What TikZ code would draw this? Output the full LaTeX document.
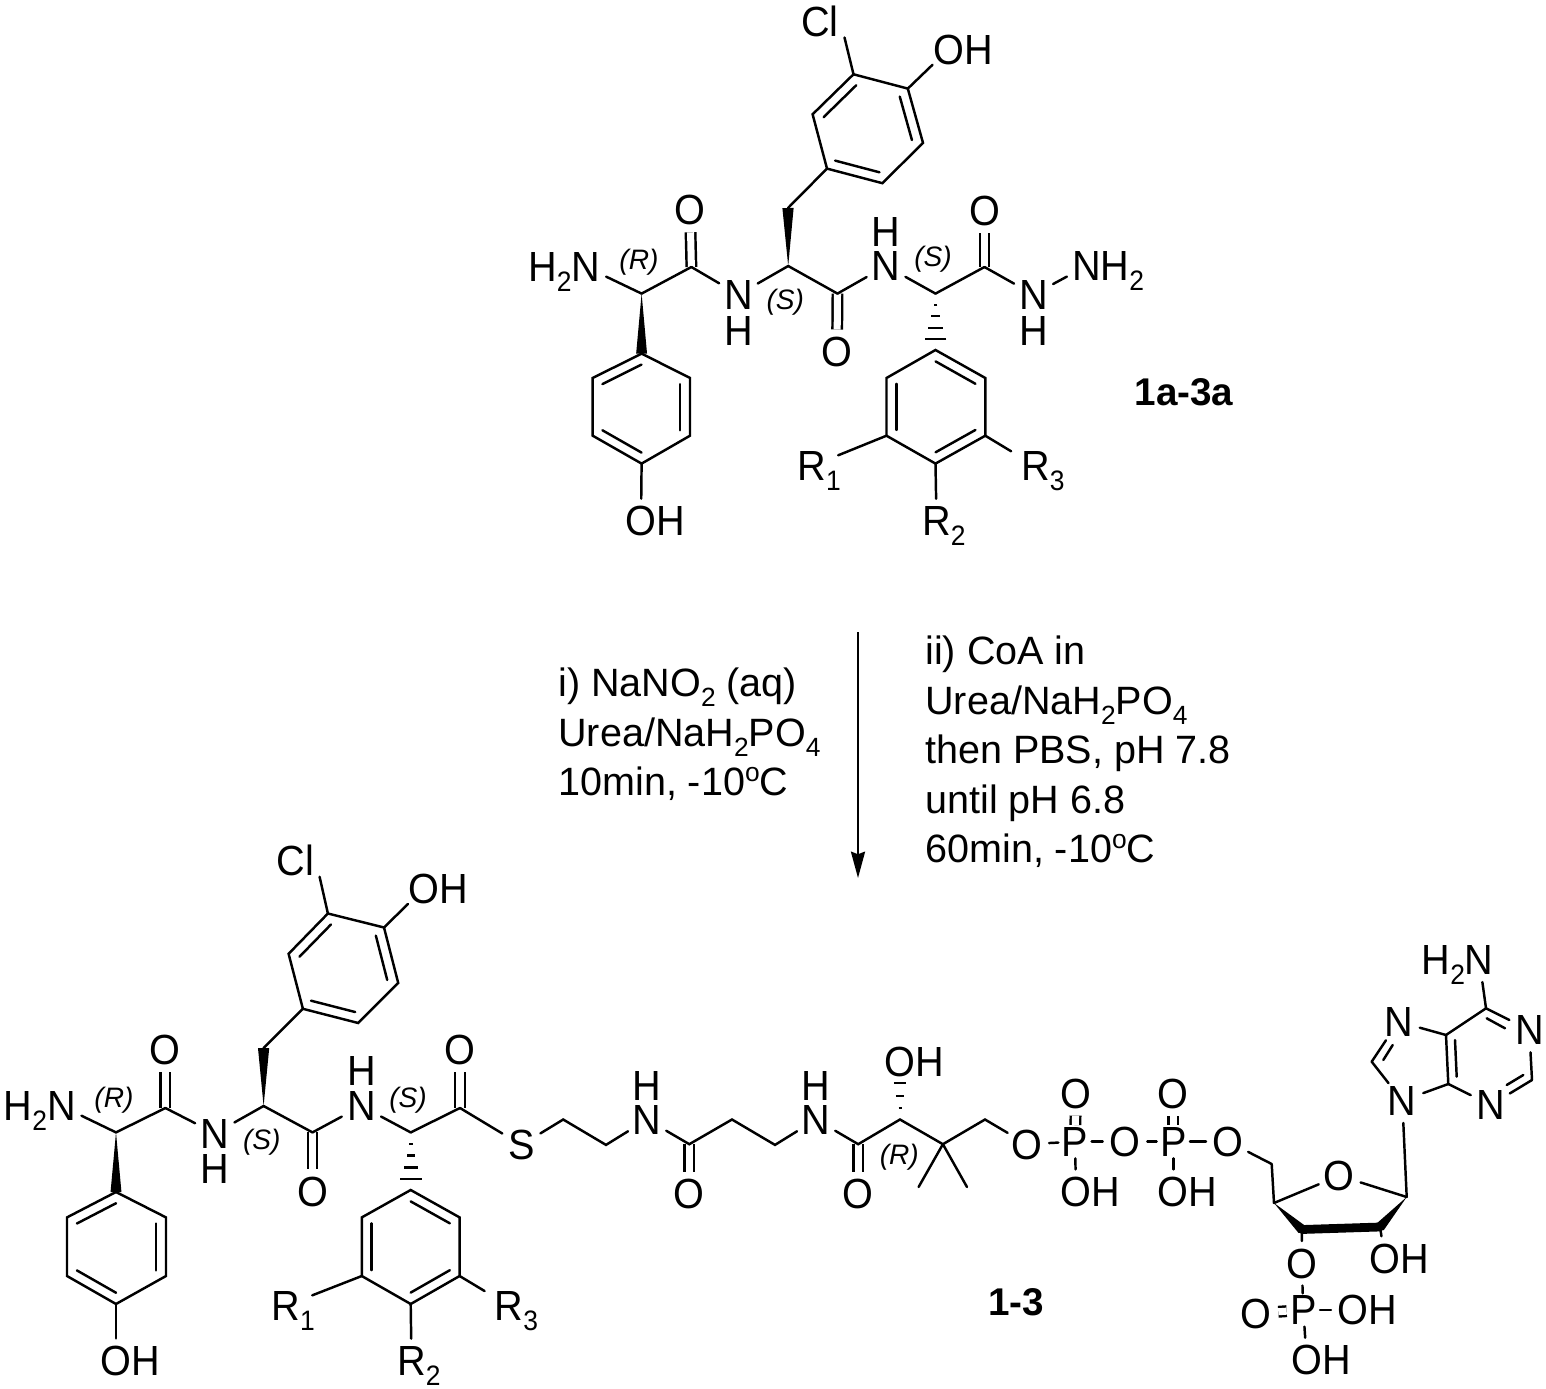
\documentclass[tikz,border=0pt]{standalone}
\usepackage{fontspec}
\setmainfont{Liberation Sans}
\newfontfamily\atomfam[FakeStretch=0.94]{Liberation Sans}
\usepackage{tikz}
\usetikzlibrary{calc,arrows.meta}
\newcommand{\subs}[1]{\raisebox{-5.5pt}{\fontsize{16}{16}\selectfont #1}}
\newcommand{\rsub}[1]{\raisebox{-5.6pt}{\fontsize{15}{15}\selectfont #1}}
\newcommand{\sups}[1]{\raisebox{8pt}{\fontsize{15}{15}\selectfont #1}}
\newcommand{\innerbond}[3]{\draw[bond] ($(#1)!.2!(#3)$) -- ($(#2)!.2!(#3)$);}
\newcommand{\wedgebond}[3]{\fill (#1) -- ($(#2)!#3!90:(#1)$) -- ($(#2)!#3!-90:(#1)$) -- cycle;}
\newcommand{\hashbar}[4]{\draw[hashbond] ($($(#1)!#3!(#2)$)!#4!90:(#2)$) -- ($($(#1)!#3!(#2)$)!#4!-90:(#2)$);}
\newcommand{\hashbond}[2]{\hashbar{#1}{#2}{.2}{1.1pt}\hashbar{#1}{#2}{.4}{2.3pt}\hashbar{#1}{#2}{.61}{4pt}\hashbar{#1}{#2}{.81}{6.2pt}}

\begin{document}
\begin{tikzpicture}[
    x=0.02cm, y=-0.02cm,
    bond/.style={line width=1.4pt, line cap=round},
    dblbond/.style={line width=1.4pt, double, double distance=4pt},
    hashbond/.style={line width=1.2pt},
    atom/.style={circle, inner sep=0pt, minimum size=25pt, text height=17pt, text depth=0pt, font=\atomfam\fontsize{24}{28}\selectfont},
    atomp/.style={atom, outer sep=-3pt},
    rgroup/.style={atom, minimum size=32pt},
    stereo/.style={inner sep=0pt, font=\fontsize{16}{18}\selectfont\itshape},
    tag/.style={inner sep=0pt, font=\fontsize{22}{26}\selectfont\bfseries},
    reagent/.style={inner sep=0pt, anchor=west, align=left, font=\fontsize{22.5}{28.2}\selectfont},
    arrow/.style={line width=1.2pt, -{Stealth[length=15pt, width=8pt, inset=1.5pt]}}
]
\useasboundingbox (0,0) rectangle (1546,1389);

% Top molecule: backbone
\coordinate (tca1) at (641.6,293.6);
\coordinate (tco1) at (691.4,267);
\coordinate (tca2) at (788.2,266);
\coordinate (tch2) at (788,208);
\coordinate (tco2) at (837.5,293.6);
\coordinate (tca3) at (935.5,293.6);
\coordinate (tco3) at (984.5,267);
\node[atom] (tnh2) at (586,267) {\llap{H\subs{2}}N};
\node[atom] (to1) at (690,210) {O};
\node[atom] (tn1) at (738.4,294.6) {N};
\node[atom] (th1) at (738.4,330.4) {H};
\node[atom] (to2) at (837,351.8) {O};
\node[atom] (tn2) at (886,266) {N};
\node[atom] (th2) at (886,232) {H};
\node[atom] (to3) at (984.5,210.7) {O};
\node[atom] (tn3) at (1033.5,294.6) {N};
\node[atom] (th3) at (1033.5,330.4) {H};
\node[atom] (tn4) at (1086.5,266) {N\rlap{H\subs{2}}};
\node[stereo] (tst1) at (639,262.5) {(R)};
\node[stereo] (tst2) at (785.3,302.5) {(S)};
\node[stereo] (tst3) at (933,259.6) {(S)};

% Top molecule: left ring
\coordinate (tr1a) at (641.6,353.6);
\coordinate (tr1b) at (592.7,378);
\coordinate (tr1c) at (592.7,435.7);
\coordinate (tr1d) at (641.6,463.6);
\coordinate (tr1e) at (690,435.7);
\coordinate (tr1f) at (690,378);
\coordinate (tr1m) at (641.3,408.6);
\node[atom] (to4) at (641,521) {O\rlap{H}};

% Top molecule: chloro ring
\coordinate (tr2a) at (827,168.6);
\coordinate (tr2b) at (812.6,114.3);
\coordinate (tr2c) at (853.5,74.3);
\coordinate (tr2d) at (907.8,88.6);
\coordinate (tr2e) at (923,142.9);
\coordinate (tr2f) at (882.4,183.2);
\coordinate (tr2m) at (867.7,128.7);
\coordinate (tclend) at (844.5,37.5);
\node[inner sep=0pt, font=\atomfam\fontsize{24}{28}\selectfont] (tcl) at (820,21.4) {Cl};
\node[atom] (to5) at (948.6,49.3) {O\rlap{H}};

% Top molecule: R ring
\coordinate (tr3a) at (935.5,350);
\coordinate (tr3b) at (985.3,378);
\coordinate (tr3c) at (985.3,435.7);
\coordinate (tr3d) at (935.5,463.6);
\coordinate (tr3e) at (886.5,435.7);
\coordinate (tr3f) at (886.5,378);
\coordinate (tr3m) at (935.9,407);
\node[rgroup] (tr1) at (811.8,466) {R\rlap{\subs{1}}};
\node[atom] (tr2) at (936.5,521) {R\rlap{\subs{2}}};
\node[rgroup] (tr3) at (1035.5,466) {R\rlap{\subs{3}}};
\node[tag] (tlabel) at (1184,392) {1a-3a};

% Top molecule: bonds
\draw[dblbond] (tco1) -- (to1);
\draw[dblbond] (tco2) -- (to2);
\draw[dblbond] (tco3) -- (to3);
\draw[bond] (tnh2) -- (tca1);
\draw[bond] (tca1) -- (tco1);
\draw[bond] (tco1) -- (tn1);
\draw[bond] (tn1) -- (tca2);
\draw[bond] (tca2) -- (tco2);
\draw[bond] (tco2) -- (tn2);
\draw[bond] (tn2) -- (tca3);
\draw[bond] (tca3) -- (tco3);
\draw[bond] (tco3) -- (tn3);
\draw[bond] (tn3) -- (tn4);
\wedgebond{tca1}{tr1a}{3.1pt}
\wedgebond{tca2}{tch2}{3.2pt}
\hashbond{tca3}{tr3a}
\draw[bond] (tch2) -- (tr2a);
\draw[bond] (tr1a) -- (tr1b) -- (tr1c) -- (tr1d) -- (tr1e) -- (tr1f) -- cycle;
\innerbond{tr1a}{tr1b}{tr1m}
\innerbond{tr1c}{tr1d}{tr1m}
\innerbond{tr1e}{tr1f}{tr1m}
\draw[bond] (tr1d) -- (to4);
\draw[bond] (tr2a) -- (tr2b) -- (tr2c) -- (tr2d) -- (tr2e) -- (tr2f) -- cycle;
\innerbond{tr2b}{tr2c}{tr2m}
\innerbond{tr2d}{tr2e}{tr2m}
\innerbond{tr2f}{tr2a}{tr2m}
\draw[bond] (tr2c) -- (tclend);
\draw[bond] (tr2d) -- (to5);
\draw[bond] (tr3a) -- (tr3b) -- (tr3c) -- (tr3d) -- (tr3e) -- (tr3f) -- cycle;
\innerbond{tr3a}{tr3b}{tr3m}
\innerbond{tr3c}{tr3d}{tr3m}
\innerbond{tr3e}{tr3f}{tr3m}
\draw[bond] (tr3e) -- (tr1);
\draw[bond] (tr3d) -- (tr2);
\draw[bond] (tr3c) -- (tr3);

% Reaction arrow and conditions
\coordinate (arrowtop) at (858,632);
\coordinate (arrowtip) at (858,878);
\draw[arrow] (arrowtop) -- (arrowtip);
\node[reagent] (condleft) at (558,734.5) {i) NaNO\rsub{2} (aq)\\Urea/NaH\rsub{2}PO\rsub{4}\\10min, -10\sups{o}C};
\node[reagent] (condright) at (925,752) {ii) CoA in\\Urea/NaH\rsub{2}PO\rsub{4}\\then PBS, pH 7.8\\until pH 6.8\\60min, -10\sups{o}C};

% Bottom molecule: backbone
\coordinate (bca1) at (116,1132.4);
\coordinate (bco1) at (165.4,1108);
\coordinate (bca2) at (263.6,1106);
\coordinate (bch2) at (263.6,1048);
\coordinate (bco2) at (312.5,1132.4);
\coordinate (bca3) at (410.7,1132.4);
\coordinate (bco3) at (460,1108);
\node[atom] (bnh2) at (61.4,1106) {\llap{H\subs{2}}N};
\node[atom] (bo1) at (165.4,1049.4) {O};
\node[atom] (bn1) at (215,1133.4) {N};
\node[atom] (bh1) at (215,1169) {H};
\node[atom] (bo2) at (312.5,1191.2) {O};
\node[atom] (bn2) at (361.4,1106) {N};
\node[atom] (bh2) at (361.4,1071) {H};
\node[atom] (bo3) at (460,1049.4) {O};
\node[atom] (bs1) at (521.4,1145) {S};
\node[stereo] (bst1) at (114,1100) {(R)};
\node[stereo] (bst2) at (261.8,1141.8) {(S)};
\node[stereo] (bst3) at (408,1099.8) {(S)};

% Bottom molecule: left ring
\coordinate (br1a) at (116,1192);
\coordinate (br1b) at (67,1217.4);
\coordinate (br1c) at (67,1276);
\coordinate (br1d) at (116,1304);
\coordinate (br1e) at (166,1276);
\coordinate (br1f) at (166,1217.4);
\coordinate (br1m) at (116.5,1248);
\node[atom] (bo4) at (116,1360.7) {O\rlap{H}};

% Bottom molecule: chloro ring
\coordinate (br2a) at (302.9,1008.8);
\coordinate (br2b) at (288.6,953.8);
\coordinate (br2c) at (327.9,913.5);
\coordinate (br2d) at (384,927.5);
\coordinate (br2e) at (398.2,982.9);
\coordinate (br2f) at (358.2,1023);
\coordinate (br2m) at (343.3,968.2);
\coordinate (bclend) at (319.6,876.8);
\node[inner sep=0pt, font=\atomfam\fontsize{24}{28}\selectfont] (bcl) at (295.7,860.3) {Cl};
\node[atom] (bo5) at (424,888.3) {O\rlap{H}};

% Bottom molecule: R ring
\coordinate (br3a) at (410.7,1190);
\coordinate (br3b) at (459.6,1217.4);
\coordinate (br3c) at (459.6,1276);
\coordinate (br3d) at (410.7,1304);
\coordinate (br3e) at (361.8,1276);
\coordinate (br3f) at (361.8,1217.4);
\coordinate (br3m) at (410.7,1247);
\node[rgroup] (br1) at (285.7,1305.7) {R\rlap{\subs{1}}};
\node[atom] (br2) at (411.5,1361) {R\rlap{\subs{2}}};
\node[rgroup] (br3) at (509,1305.7) {R\rlap{\subs{3}}};
\node[tag] (blabel) at (1016,1302) {1-3};

% Bottom molecule: pantetheine chain
\coordinate (cc1) at (563.2,1119.5);
\coordinate (cc2) at (606,1144.9);
\coordinate (cc3) at (689.3,1144.2);
\coordinate (cc4) at (732,1119.5);
\coordinate (cc5) at (775,1144.9);
\coordinate (cc6) at (858.2,1144.2);
\coordinate (cc7) at (900,1119.5);
\coordinate (cc8) at (942.9,1144.2);
\coordinate (cc9) at (985,1119.5);
\coordinate (cme1) at (918.6,1187);
\coordinate (cme2) at (967,1187);
\node[atom] (cn1) at (647,1119.5) {N};
\node[atom] (ch1) at (647,1085.7) {H};
\node[atom] (co1) at (689.3,1193.9) {O};
\node[atom] (cn2) at (816,1119.5) {N};
\node[atom] (ch2) at (816,1085.7) {H};
\node[atom] (co2) at (858.2,1193.9) {O};
\node[atom] (co3) at (900,1062) {O\rlap{H}};
\node[stereo] (cst1) at (899.3,1157.7) {(R)};

% Bottom molecule: diphosphate
\node[atom] (po1) at (1026.8,1144.2) {O};
\node[atomp] (pp1) at (1075,1141.7) {P};
\node[atom] (po2) at (1125,1141.7) {O};
\node[atomp] (pp2) at (1173.3,1141.7) {P};
\node[atom] (po3) at (1228.3,1141.7) {O};
\node[atom] (po4) at (1076,1093.3) {O};
\node[atom] (po5) at (1173.3,1093.3) {O};
\node[atom] (po6) at (1076,1191.7) {O\rlap{H}};
\node[atom] (po7) at (1173.3,1191.7) {O\rlap{H}};

% Bottom molecule: ribose and 3' phosphate
\coordinate (rc5) at (1271.7,1164);
\coordinate (rc4) at (1274,1203);
\coordinate (rc3) at (1302,1229.5);
\coordinate (rc2) at (1380,1227);
\coordinate (rc1) at (1406.7,1197);
\node[atom] (ro1) at (1339.3,1175.7) {O};
\node[atom] (ro2) at (1385,1258.3) {O\rlap{H}};
\node[atom] (ro3) at (1301.7,1263.3) {O};
\node[atomp] (qp1) at (1303.3,1310) {P};
\node[atom] (qo1) at (1256,1313.3) {O};
\node[atom] (qo2) at (1353.3,1310) {O\rlap{H}};
\node[atom] (qo3) at (1306.7,1360) {O\rlap{H}};

% Bottom molecule: adenine
\coordinate (ac4) at (1448.3,1084);
\coordinate (ac5) at (1446,1035);
\coordinate (ac6) at (1486,1008.3);
\coordinate (ac2) at (1532,1080);
\coordinate (ac8) at (1371.7,1061.7);
\node[atom] (an9) at (1402.3,1100.7) {N};
\node[atom] (an7) at (1398.3,1021.7) {N};
\node[atom] (an1) at (1529.3,1030) {N};
\node[atom] (an3) at (1490.7,1105) {N};
\node[atom] (an6) at (1479.3,960) {\llap{H\subs{2}}N};
\coordinate (ai1a) at (1486.7,1018.3);
\coordinate (ai1b) at (1505,1028.3);
\coordinate (ai2a) at (1506.7,1085);
\coordinate (ai2b) at (1523.3,1075);
\coordinate (ai3a) at (1455,1040);
\coordinate (ai3b) at (1456.7,1076.7);
\coordinate (ai4a) at (1383.3,1060);
\coordinate (ai4b) at (1392.7,1045);

% Bottom molecule: bonds
\draw[dblbond] (bco1) -- (bo1);
\draw[dblbond] (bco2) -- (bo2);
\draw[dblbond] (bco3) -- (bo3);
\draw[dblbond] (cc3) -- (co1);
\draw[dblbond] (cc6) -- (co2);
\draw[dblbond] (pp1) -- (po4);
\draw[dblbond] (pp2) -- (po5);
\draw[dblbond] (qp1) -- (qo1);
\draw[bond] (bnh2) -- (bca1);
\draw[bond] (bca1) -- (bco1);
\draw[bond] (bco1) -- (bn1);
\draw[bond] (bn1) -- (bca2);
\draw[bond] (bca2) -- (bco2);
\draw[bond] (bco2) -- (bn2);
\draw[bond] (bn2) -- (bca3);
\draw[bond] (bca3) -- (bco3);
\draw[bond] (bco3) -- (bs1);
\wedgebond{bca1}{br1a}{3.1pt}
\wedgebond{bca2}{bch2}{3.2pt}
\hashbond{bca3}{br3a}
\draw[bond] (bch2) -- (br2a);
\draw[bond] (br1a) -- (br1b) -- (br1c) -- (br1d) -- (br1e) -- (br1f) -- cycle;
\innerbond{br1a}{br1b}{br1m}
\innerbond{br1c}{br1d}{br1m}
\innerbond{br1e}{br1f}{br1m}
\draw[bond] (br1d) -- (bo4);
\draw[bond] (br2a) -- (br2b) -- (br2c) -- (br2d) -- (br2e) -- (br2f) -- cycle;
\innerbond{br2b}{br2c}{br2m}
\innerbond{br2d}{br2e}{br2m}
\innerbond{br2f}{br2a}{br2m}
\draw[bond] (br2c) -- (bclend);
\draw[bond] (br2d) -- (bo5);
\draw[bond] (br3a) -- (br3b) -- (br3c) -- (br3d) -- (br3e) -- (br3f) -- cycle;
\innerbond{br3a}{br3b}{br3m}
\innerbond{br3c}{br3d}{br3m}
\innerbond{br3e}{br3f}{br3m}
\draw[bond] (br3e) -- (br1);
\draw[bond] (br3d) -- (br2);
\draw[bond] (br3c) -- (br3);
\draw[bond] (bs1) -- (cc1) -- (cc2) -- (cn1);
\draw[bond] (cn1) -- (cc3) -- (cc4) -- (cc5) -- (cn2);
\draw[bond] (cn2) -- (cc6) -- (cc7) -- (cc8) -- (cc9) -- (po1);
\draw[bond] (cc8) -- (cme1);
\draw[bond] (cc8) -- (cme2);
\hashbar{cc7}{co3}{.2}{.85pt}
\hashbar{cc7}{co3}{.41}{2.3pt}
\hashbar{cc7}{co3}{.63}{3.5pt}
\draw[bond] (po1) -- (pp1);
\draw[bond] (pp1) -- (po2);
\draw[bond] (po2) -- (pp2);
\draw[bond] (pp2) -- (po3);
\draw[bond] (pp1) -- (po6);
\draw[bond] (pp2) -- (po7);
\draw[bond] (po3) -- (rc5);
\draw[bond] (rc5) -- (rc4);
\draw[bond] (rc4) -- (ro1);
\draw[bond] (ro1) -- (rc1);
\wedgebond{rc4}{rc3}{2.8pt}
\wedgebond{rc1}{rc2}{2.8pt}
\draw[line width=5pt, line cap=round] (rc3) -- (rc2);
\draw[bond] (rc2) -- (ro2);
\draw[bond] (rc3) -- (ro3);
\draw[bond] (ro3) -- (qp1);
\draw[bond] (qp1) -- (qo2);
\draw[bond] (qp1) -- (qo3);
\draw[bond] (rc1) -- (an9);
\draw[bond] (an9) -- (ac8);
\draw[bond] (ac8) -- (an7);
\draw[bond] (an7) -- (ac5);
\draw[bond] (an9) -- (ac4);
\draw[bond] (ac4) -- (ac5);
\draw[bond] (ac5) -- (ac6);
\draw[bond] (ac6) -- (an1);
\draw[bond] (an1) -- (ac2);
\draw[bond] (ac2) -- (an3);
\draw[bond] (an3) -- (ac4);
\draw[bond] (ac6) -- (an6);
\draw[bond] (ai1a) -- (ai1b);
\draw[bond] (ai2a) -- (ai2b);
\draw[bond] (ai3a) -- (ai3b);
\draw[bond] (ai4a) -- (ai4b);

\end{tikzpicture}
\end{document}
